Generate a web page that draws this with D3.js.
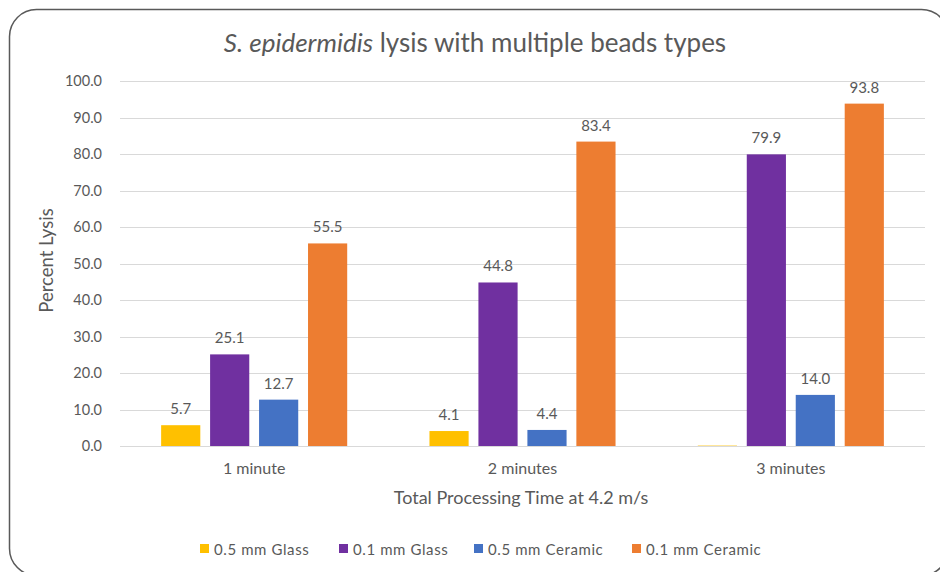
<!DOCTYPE html>
<html>
<head>
<meta charset="utf-8">
<script src="https://cdn.jsdelivr.net/npm/d3@7"></script>
<style>
  html, body { margin: 0; padding: 0; background: #fff; }
  svg { display: block; font-family: Lato, "Open Sans", sans-serif; }
</style>
</head>
<body>
<svg id="chart" width="940" height="572"></svg>
<script>
const categories = ["1 minute", "2 minutes", "3 minutes"];
const seriesNames = ["0.5 mm Glass", "0.1 mm Glass", "0.5 mm Ceramic", "0.1 mm Ceramic"];
const glass05 = [5.7, 4.1, 0.0];
const glass01 = [25.1, 44.8, 79.9];
const ceramic05 = [12.7, 4.4, 14.0];
const ceramic01 = [55.5, 83.4, 93.8];
const yTicks = [0, 10, 20, 30, 40, 50, 60, 70, 80, 90, 100];
const colors = ["#FFC000", "#7030A0", "#4472C4", "#ED7D31"];

const seriesValues = [glass05, glass01, ceramic05, ceramic01];

const svg = d3.select("#chart");
const textColor = "#595959";
const fontFam = "Lato, 'Open Sans', sans-serif";

// outer rounded border
svg.append("rect")
  .attr("x", 9.5).attr("y", 9.5)
  .attr("width", 939).attr("height", 566)
  .attr("rx", 27).attr("ry", 27)
  .attr("fill", "#fff")
  .attr("stroke", "#595959").attr("stroke-width", 1.5);

const plot = { left: 120, right: 925, top: 81, bottom: 446 };

const y = d3.scaleLinear().domain([0, 100]).range([plot.bottom, plot.top]);
const x0 = d3.scaleBand().domain(categories).range([plot.left, plot.right]).padding(0);
const x1 = d3.scaleBand().domain(seriesNames).range([0, x0.bandwidth()])
  .paddingInner(0.2).paddingOuter(0.84);

// title
const title = svg.append("text")
  .attr("x", 475).attr("y", 52)
  .attr("text-anchor", "middle")
  .attr("fill", textColor)
  .attr("font-size", 26);
title.append("tspan").attr("font-style", "italic").text("S. epidermidis");
title.append("tspan").text(" lysis with multiple beads types");

// gridlines
svg.append("g")
  .selectAll("line")
  .data(yTicks)
  .join("line")
  .attr("x1", plot.left).attr("x2", plot.right)
  .attr("y1", d => Math.round(y(d)) + 0.5).attr("y2", d => Math.round(y(d)) + 0.5)
  .attr("stroke", "#d9d9d9").attr("stroke-width", 1);

// y axis
const yAxis = d3.axisLeft(y).tickValues(yTicks).tickFormat(d3.format(".1f")).tickSize(0).tickPadding(0);
const yg = svg.append("g").attr("transform", `translate(102,0)`).call(yAxis);
yg.select(".domain").remove();
yg.selectAll("text").attr("fill", textColor).attr("font-size", 14.5).attr("font-family", fontFam);

// x axis
const xAxis = d3.axisBottom(x0).tickSize(0).tickPadding(0);
const xg = svg.append("g").attr("transform", `translate(0,${plot.bottom + 17})`).call(xAxis);
xg.select(".domain").remove();
xg.selectAll("text").attr("fill", textColor).attr("font-size", 16).attr("font-family", fontFam);

// axis titles
svg.append("text")
  .attr("transform", `translate(53,${(plot.top + plot.bottom) / 2 - 3}) rotate(-90)`)
  .attr("text-anchor", "middle")
  .attr("fill", textColor).attr("font-size", 18.5)
  .text("Percent Lysis");

svg.append("text")
  .attr("x", 521).attr("y", 504)
  .attr("text-anchor", "middle")
  .attr("fill", textColor).attr("font-size", 18)
  .text("Total Processing Time at 4.2 m/s");

// bars
const barData = [];
categories.forEach((c, ci) => {
  seriesNames.forEach((s, si) => {
    barData.push({ cat: c, series: s, si, value: seriesValues[si][ci] });
  });
});

const groups = svg.append("g");
groups.selectAll("rect")
  .data(barData)
  .join("rect")
  .attr("x", d => x0(d.cat) + x1(d.series))
  .attr("y", d => Math.min(y(d.value), plot.bottom - 1))
  .attr("width", x1.bandwidth())
  .attr("height", d => Math.max(plot.bottom - y(d.value), 1))
  .attr("fill", d => colors[d.si])
  .attr("opacity", d => d.value > 0 ? 1 : 0.4);

groups.selectAll("text")
  .data(barData.filter(d => d.value > 0))
  .join("text")
  .attr("x", d => x0(d.cat) + x1(d.series) + x1.bandwidth() / 2)
  .attr("y", d => y(d.value) - 11)
  .attr("text-anchor", "middle")
  .attr("fill", textColor).attr("font-size", 15)
  .text(d => d3.format(".1f")(d.value));

// legend
const legendX = [200, 339, 474, 632];
const legend = svg.append("g");
seriesNames.forEach((s, i) => {
  const g = legend.append("g").attr("transform", `translate(${legendX[i]},0)`);
  g.append("rect").attr("x", 0).attr("y", 544).attr("width", 9).attr("height", 9).attr("fill", colors[i]);
  g.append("text").attr("x", 14).attr("y", 554.5)
    .attr("fill", textColor).attr("font-size", 15).attr("letter-spacing", 0.6)
    .text(s);
});
</script>
</body>
</html>
